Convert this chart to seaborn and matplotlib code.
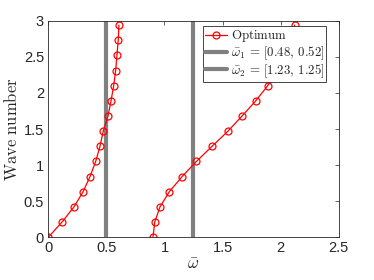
import numpy as np
import pandas as pd
import seaborn as sbn
from matplotlib import pyplot as plt

# wave numbers sampled along each branch
wave = [0.0, 0.21, 0.42, 0.63, 0.84, 1.05, 1.26, 1.47, 1.68, 1.89, 2.10, 2.31, 2.52, 2.73, 2.94]

# optimum frequencies
omega_branch1 = [0.0, 0.118, 0.221, 0.299, 0.359, 0.408, 0.445, 0.473, 0.514, 0.540,
                 0.563, 0.580, 0.591, 0.602, 0.608]
omega_branch2 = [0.901, 0.916, 0.961, 1.041, 1.151, 1.274, 1.409, 1.546, 1.667, 1.785,
                 1.888, 1.978, 2.048, 2.098, 2.12]

# band gap centres
gap_centres = [0.50, 1.245]
gap_labels = [r'$\bar{\omega}_1\,=\,[0.48,\, 0.52]$', r'$\bar{\omega}_2\,=\,[1.23,\, 1.25]$']

sbn.set_style("white")
plt.rcParams['font.family'] = ['Liberation Sans', 'DejaVu Sans']
plt.rcParams['mathtext.fontset'] = 'cm'

fig = plt.figure(figsize=(3.74, 2.80), dpi=100)
ax = fig.add_axes([0.129, 0.1525, 0.777, 0.7735])

df1 = pd.DataFrame({"omega": omega_branch1, "k": wave})
df2 = pd.DataFrame({"omega": omega_branch2, "k": wave})

style = dict(color='red', marker='o', markersize=5, markerfacecolor='none',
             markeredgecolor='red', markeredgewidth=0.9, linewidth=0.9, sort=False)
sbn.lineplot(data=df1, x="omega", y="k", ax=ax, label=r'$\mathrm{Optimum}$', **style)
sbn.lineplot(data=df2, x="omega", y="k", ax=ax, label='_nolegend_', **style)

for c, lab in zip(gap_centres, gap_labels):
    ax.axvline(c, color='#808080', linewidth=3, label=lab, zorder=1)

ax.set_xlim(0, 2.5)
ax.set_ylim(0, 3)
ax.set_xticks(np.arange(0, 2.51, 0.5))
ax.set_yticks(np.arange(0, 3.01, 0.5))
ax.set_xticklabels(['0', '0.5', '1', '1.5', '2', '2.5'])
ax.set_yticklabels(['0', '0.5', '1', '1.5', '2', '2.5', '3'])
ax.tick_params(direction='in', length=3, width=0.5, top=True, right=True,
               labelsize=10.5, colors='#262626', pad=3)
for sp in ax.spines.values():
    sp.set_color('#262626')
    sp.set_linewidth(0.6)

ax.set_xlabel(r'$\bar{\omega}$', fontsize=12, labelpad=1)
ax.set_ylabel(r'$\mathrm{Wave\ number}$', fontsize=12, labelpad=3)

leg = ax.legend(loc='upper right', bbox_to_anchor=(0.956, 0.975), borderaxespad=0,
                fontsize=9.3, frameon=True, fancybox=False,
                framealpha=1, edgecolor='#262626', borderpad=0.15, labelspacing=0.02,
                handlelength=1.7, handletextpad=0.3)
leg.get_frame().set_linewidth(0.6)

plt.savefig('out.png', dpi=100)
